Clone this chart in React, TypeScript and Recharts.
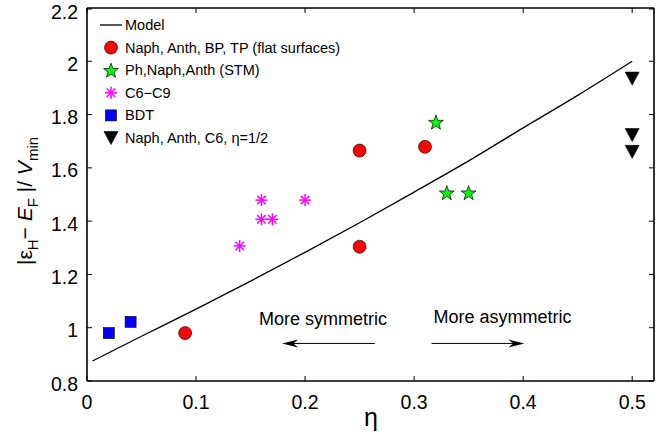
import React from 'react';
import {
  ComposedChart,
  XAxis,
  YAxis,
  Line,
  Scatter,
  ReferenceLine,
  ReferenceDot,
} from 'recharts';

const etaTicks = [0, 0.1, 0.2, 0.3, 0.4, 0.5];
const vTicks = [0.8, 1, 1.2, 1.4, 1.6, 1.8, 2, 2.2];

const modelEta = [0.005, 0.05, 0.1, 0.15, 0.2, 0.25, 0.3, 0.35, 0.4, 0.45, 0.5];
const modelV = [0.875, 0.968, 1.07, 1.175, 1.283, 1.394, 1.509, 1.626, 1.75, 1.872, 2.0];

const flatEta = [0.09, 0.25, 0.25, 0.31];
const flatV = [0.98, 1.665, 1.304, 1.679];

const stmEta = [0.32, 0.33, 0.35];
const stmV = [1.772, 1.507, 1.507];

const alkEta = [0.14, 0.16, 0.16, 0.17, 0.2];
const alkV = [1.307, 1.479, 1.407, 1.407, 1.479];

const bdtEta = [0.02, 0.04];
const bdtV = [0.98, 1.022];

const halfEta = [0.5, 0.5, 0.5];
const halfV = [1.935, 1.723, 1.66];

const legendLabels = [
  'Model',
  'Naph, Anth, BP, TP (flat surfaces)',
  'Ph,Naph,Anth (STM)',
  'C6\u2212C9',
  'BDT',
  'Naph, Anth, C6, \u03b7=1/2',
];

const zip = (xs: number[], ys: number[]) => xs.map((x, i) => ({ x, y: ys[i] }));

const modelData = zip(modelEta, modelV);
const flatData = zip(flatEta, flatV);
const stmData = zip(stmEta, stmV);
const alkData = zip(alkEta, alkV);
const bdtData = zip(bdtEta, bdtV);
const halfData = zip(halfEta, halfV);

const FONT = '"Liberation Sans", Arial, Helvetica, sans-serif';

// plot frame (pixel layout)
const PLOT_TOP = 8;
const PLOT_RIGHT = 654;
const TICK_LEN = 5;
const X_MARGIN = 14;
const Y_MARGIN = 9;

const Circle = ({ cx, cy }: any) => (
  <circle cx={cx} cy={cy} r={6.5} fill="#ff0000" stroke="#000" strokeWidth={0.6} />
);

const starPoints = (cx: number, cy: number, ro: number, ri: number) => {
  const pts: string[] = [];
  for (let i = 0; i < 10; i++) {
    const r = i % 2 === 0 ? ro : ri;
    const a = -Math.PI / 2 + (i * Math.PI) / 5;
    pts.push(`${cx + r * Math.cos(a)},${cy + r * Math.sin(a)}`);
  }
  return pts.join(' ');
};

const Star = ({ cx, cy }: any) => (
  <polygon points={starPoints(cx, cy + 0.8, 7.8, 3.1)} fill="#00ff00" stroke="#000" strokeWidth={0.7} />
);

const Asterisk = ({ cx, cy }: any) => {
  const r = 6;
  const d = r * 0.7071;
  return (
    <g stroke="#ff00ff" strokeWidth={1.5}>
      <line x1={cx - r} y1={cy} x2={cx + r} y2={cy} />
      <line x1={cx} y1={cy - r} x2={cx} y2={cy + r} />
      <line x1={cx - d} y1={cy - d} x2={cx + d} y2={cy + d} />
      <line x1={cx - d} y1={cy + d} x2={cx + d} y2={cy - d} />
    </g>
  );
};

const Square = ({ cx, cy }: any) => (
  <rect x={cx - 5.5} y={cy - 5.5} width={11} height={11} fill="#0000ff" stroke="#000" strokeWidth={0.6} />
);

const TriDown = ({ cx, cy }: any) => (
  <polygon
    points={`${cx - 7},${cy - 6.5} ${cx + 7},${cy - 6.5} ${cx},${cy + 6.5}`}
    fill="#000"
    stroke="#000"
    strokeWidth={0.6}
  />
);

const ArrowShape = (props: any) => {
  const { x1, y1, x2, y2 } = props;
  const dir = x2 > x1 ? 1 : -1;
  const L = 16;
  const H = 4;
  return (
    <g>
      <line x1={x1} y1={y1} x2={x2 - dir * 8} y2={y2} stroke="#000" strokeWidth={1} />
      <polygon
        points={`${x2},${y2} ${x2 - dir * L},${y2 - H} ${x2 - dir * (L - 5)},${y2} ${x2 - dir * L},${y2 + H}`}
        fill="#000"
      />
    </g>
  );
};

const TextShape = (label: string) => (props: any) => (
  <text
    x={props.cx}
    y={props.cy}
    textAnchor="middle"
    dominantBaseline="central"
    fontFamily={FONT}
    fontSize={18}
    fill="#000"
  >
    {label}
  </text>
);

const fmt = (v: number) => String(Number(v.toFixed(2)));

const XTick = (props: any) => {
  const { x, y, payload } = props;
  const axisY = y - X_MARGIN;
  return (
    <g>
      <line x1={x} y1={axisY} x2={x} y2={axisY - TICK_LEN} stroke="#000" strokeWidth={1} />
      <line x1={x} y1={PLOT_TOP} x2={x} y2={PLOT_TOP + TICK_LEN} stroke="#000" strokeWidth={1} />
      <text x={x} y={y} dy="0.71em" textAnchor="middle" fontFamily={FONT} fontSize={19.5} fill="#000">
        {fmt(payload.value)}
      </text>
    </g>
  );
};

const YTick = (props: any) => {
  const { x, y, payload } = props;
  const axisX = x + Y_MARGIN;
  return (
    <g>
      <line x1={axisX} y1={y} x2={axisX + TICK_LEN} y2={y} stroke="#000" strokeWidth={1} />
      <line x1={PLOT_RIGHT} y1={y} x2={PLOT_RIGHT - TICK_LEN} y2={y} stroke="#000" strokeWidth={1} />
      <text x={x} y={y + 2.5} dy="0.36em" textAnchor="end" fontFamily={FONT} fontSize={19.5} fill="#000">
        {fmt(payload.value)}
      </text>
    </g>
  );
};

const EmptyTick = () => <g />;

const legendMarkers = [
  (cx: number, cy: number) => <line x1={cx - 11} y1={cy} x2={cx + 11} y2={cy} stroke="#000" strokeWidth={1.3} />,
  (cx: number, cy: number) => <Circle cx={cx} cy={cy} />,
  (cx: number, cy: number) => <Star cx={cx} cy={cy} />,
  (cx: number, cy: number) => <Asterisk cx={cx} cy={cy} />,
  (cx: number, cy: number) => <Square cx={cx} cy={cy} />,
  (cx: number, cy: number) => <TriDown cx={cx} cy={cy} />,
];

export default function App() {
  return (
    <div style={{ position: 'absolute', left: 0, top: 0, width: 668, height: 437, background: '#fff' }}>
      <ComposedChart width={668} height={437} margin={{ top: 0, right: 0, bottom: 0, left: 0 }}>
        <XAxis
          xAxisId={0}
          type="number"
          dataKey="x"
          domain={[0, 0.52]}
          ticks={etaTicks}
          allowDataOverflow
          height={56}
          tickSize={0}
          tickMargin={X_MARGIN}
          tick={XTick}
          tickLine={false}
          axisLine={{ stroke: '#000', strokeWidth: 1.6 }}
        />
        <XAxis
          xAxisId="top"
          orientation="top"
          type="number"
          dataKey="x"
          domain={[0, 0.52]}
          allowDataOverflow
          height={8}
          tick={EmptyTick}
          tickLine={false}
          axisLine={{ stroke: '#000', strokeWidth: 1.6 }}
        />
        <YAxis
          yAxisId={0}
          type="number"
          dataKey="y"
          domain={[0.8, 2.2]}
          ticks={vTicks}
          allowDataOverflow
          width={87}
          tickSize={0}
          tickMargin={Y_MARGIN}
          tick={YTick}
          tickLine={false}
          axisLine={{ stroke: '#000', strokeWidth: 1.6 }}
        />
        <YAxis
          yAxisId="right"
          orientation="right"
          type="number"
          dataKey="y"
          domain={[0.8, 2.2]}
          allowDataOverflow
          width={14}
          tick={EmptyTick}
          tickLine={false}
          axisLine={{ stroke: '#000', strokeWidth: 1.6 }}
        />
        <Line
          data={modelData}
          dataKey="y"
          type="monotone"
          stroke="#000"
          strokeWidth={1.3}
          dot={false}
          activeDot={false}
          isAnimationActive={false}
        />
        <Scatter data={flatData} dataKey="y" shape={Circle} isAnimationActive={false} />
        <Scatter data={stmData} dataKey="y" shape={Star} isAnimationActive={false} />
        <Scatter data={alkData} dataKey="y" shape={Asterisk} isAnimationActive={false} />
        <Scatter data={bdtData} dataKey="y" shape={Square} isAnimationActive={false} />
        <Scatter data={halfData} dataKey="y" shape={TriDown} isAnimationActive={false} />
        <ReferenceLine
          segment={[{ x: 0.264, y: 0.941 }, { x: 0.179, y: 0.941 }]}
          shape={ArrowShape}
        />
        <ReferenceLine
          segment={[{ x: 0.316, y: 0.941 }, { x: 0.401, y: 0.941 }]}
          shape={ArrowShape}
        />
        <ReferenceDot x={0.2165} y={1.033} r={0} shape={TextShape('More symmetric')} />
        <ReferenceDot x={0.381} y={1.04} r={0} shape={TextShape('More asymmetric')} />
      </ComposedChart>
      <svg
        width={668}
        height={437}
        style={{ position: 'absolute', left: 0, top: 0, pointerEvents: 'none' }}
      >
        {legendLabels.map((lab, i) => {
          const cy = 25 + i * 22.6;
          return (
            <g key={lab}>
              {legendMarkers[i](111, cy)}
              <text x={125} y={cy} dominantBaseline="central" fontFamily={FONT} fontSize={14.5} fill="#000">
                {lab}
              </text>
            </g>
          );
        })}
        <text x={371} y={426} textAnchor="middle" fontFamily={FONT} fontSize={25} fill="#000">
          {'\u03b7'}
        </text>
        <text
          x={32}
          y={201}
          transform="rotate(-90 32 201)"
          textAnchor="middle"
          fontFamily={FONT}
          fontSize={21}
          fill="#000"
        >
          {'|\u03b5'}
          <tspan fontSize={15} dy={6}>H</tspan>
          <tspan dy={-6}>{'\u2212 '}</tspan>
          <tspan fontStyle="italic">E</tspan>
          <tspan fontSize={15} dy={6}>F</tspan>
          <tspan dy={-6}>{' |/ '}</tspan>
          <tspan fontStyle="italic">V</tspan>
          <tspan fontSize={15} dy={6}>min</tspan>
        </text>
      </svg>
    </div>
  );
}
